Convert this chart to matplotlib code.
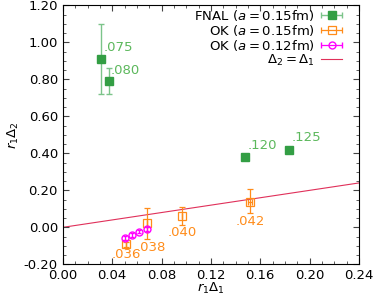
import matplotlib
matplotlib.use('Agg')
import matplotlib.pyplot as plt
from matplotlib.ticker import MultipleLocator, FormatStrFormatter
from matplotlib.container import ErrorbarContainer
from matplotlib.legend_handler import HandlerErrorbar

# FNAL (a = 0.15 fm)
fnal_x = [0.0306, 0.0373, 0.148, 0.183]
fnal_y = [0.912, 0.792, 0.378, 0.420]
fnal_lo = [0.190, 0.070, 0.0, 0.0]
fnal_hi = [0.185, 0.068, 0.0, 0.0]
fnal_lab = ['.075', '.080', '.120', '.125']
fnal_lab_xy = [(0.0330, 0.971), (0.0390, 0.850), (0.1500, 0.440), (0.1850, 0.483)]

# OK (a = 0.15 fm)
ok15_x = [0.0511, 0.0681, 0.0965, 0.1515]
ok15_y = [-0.092, 0.022, 0.061, 0.138]
ok15_lo = [0.012, 0.087, 0.050, 0.062]
ok15_hi = [0.012, 0.081, 0.049, 0.067]
ok15_xerr = [0.0, 0.0, 0.0, 0.0015]
ok15_lab = ['.036', '.038', '.040', '.042']
ok15_lab_xy = [(0.0395, -0.146), (0.0595, -0.108), (0.0853, -0.029), (0.1400, 0.034)]

# OK (a = 0.12 fm)
ok12_x = [0.0503, 0.0557, 0.0614, 0.0679]
ok12_y = [-0.059, -0.043, -0.025, -0.009]
ok12_err = [0.010, 0.010, 0.008, 0.010]

green = '#339e44'
lgreen = '#5cb85c'
egreen = '#7cc48a'
orange = '#ff8c1a'
magenta = '#ff00ff'
crimson = '#e0305a'

plt.rcParams['font.family'] = 'DejaVu Sans'
plt.rcParams['mathtext.fontset'] = 'dejavusans'
fig, ax = plt.subplots(figsize=(3.74, 2.97), dpi=100)
fig.subplots_adjust(left=0.168, right=0.96, top=0.982, bottom=0.11)

ax.plot([0, 0.24], [0, 0.24], color=crimson, lw=0.8, zorder=1)

ax.errorbar(fnal_x, fnal_y, yerr=[fnal_lo, fnal_hi], fmt='s', color=green,
            ms=6, ecolor=egreen, elinewidth=1, capsize=2, zorder=3)
ax.errorbar(ok15_x, ok15_y, yerr=[ok15_lo, ok15_hi], xerr=ok15_xerr, fmt='s', color=orange,
            mfc='none', ms=6, mew=0.9, elinewidth=0.9, capsize=2, zorder=2)
ax.errorbar(ok12_x, ok12_y, yerr=ok12_err, fmt='o', color=magenta,
            mfc='none', ms=5, mew=1.0, elinewidth=0.9, capsize=1.5, zorder=4)

# legend proxies with horizontal error bars like the original
nan = [float('nan')]
h1 = ax.errorbar(nan, nan, xerr=[1], fmt='s', color=green, ms=6, ecolor=egreen,
                 elinewidth=1, capsize=2, label=r'FNAL ($a = 0.15$fm)')
h2 = ax.errorbar(nan, nan, xerr=[1], fmt='s', color=orange, mfc='none', ms=6, mew=0.9,
                 elinewidth=0.9, capsize=2, label=r'OK ($a = 0.15$fm)')
h3 = ax.errorbar(nan, nan, xerr=[1], fmt='o', color=magenta, mfc='none', ms=5, mew=1.0,
                 elinewidth=0.9, capsize=2, label=r'OK ($a = 0.12$fm)')
h4, = ax.plot(nan, nan, color=crimson, lw=0.8, label=r'$\Delta_2 = \Delta_1$')

for t, (x, y) in zip(fnal_lab, fnal_lab_xy):
    ax.text(x, y, t, color=lgreen, fontsize=9.5, ha='left', va='center')
for t, (x, y) in zip(ok15_lab, ok15_lab_xy):
    ax.text(x, y, t, color=orange, fontsize=9.5, ha='left', va='center')

ax.set_xlim(0, 0.24)
ax.set_ylim(-0.2, 1.2)
ax.xaxis.set_major_locator(MultipleLocator(0.04))
ax.xaxis.set_minor_locator(MultipleLocator(0.01))
ax.yaxis.set_major_locator(MultipleLocator(0.2))
ax.yaxis.set_minor_locator(MultipleLocator(0.05))
ax.xaxis.set_major_formatter(FormatStrFormatter('%.2f'))
ax.yaxis.set_major_formatter(FormatStrFormatter('%.2f'))
ax.tick_params(which='both', direction='in', top=True, right=True, labelsize=9.5, color='#444444')
ax.tick_params(which='major', length=4)
ax.tick_params(which='minor', length=2)
ax.set_xlabel(r'$r_1\Delta_1$', fontsize=9.5, labelpad=-1)
ax.set_ylabel(r'$r_1\Delta_2$', fontsize=9.5, labelpad=2)

handles = [h1, h2, h3, h4]
ax.legend(handles, [h.get_label() for h in handles], loc='upper right',
          bbox_to_anchor=(0.975, 1.025),
          frameon=False, fontsize=9.5, markerfirst=False, handlelength=1.6,
          handletextpad=0.5, labelspacing=0.0, borderaxespad=0.3,
          handler_map={ErrorbarContainer: HandlerErrorbar(xerr_size=0.8)})

fig.savefig('out.png', dpi=100)
